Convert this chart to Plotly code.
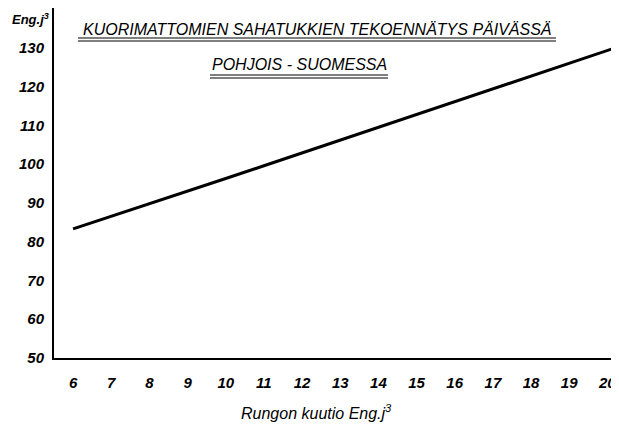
import plotly.graph_objects as go

# Data
rungon_kuutio = [6, 7, 8, 9, 10, 11, 12, 13, 14, 15, 16, 17, 18, 19, 20, 20.2]
tekoennatys = [83.3, 86.5, 89.8, 93.0, 96.3, 99.6, 102.9, 106.2, 109.5, 112.8, 116.1, 119.4, 122.7, 126.0, 129.3, 130.0]
x_ticks = list(range(6, 21))
y_ticks = [50, 60, 70, 80, 90, 100, 110, 120, 130]

title1 = "KUORIMATTOMIEN SAHATUKKIEN TEKOENNÄTYS PÄIVÄSSÄ"
title2 = "POHJOIS - SUOMESSA"
x_title = "Rungon kuutio Eng.j<sup>3</sup>"
y_title = "Eng.j<sup>3</sup>"

# page body adds an 8px offset, so the figure is 8px smaller
OFF = 8
W, H = 619 - OFF, 429 - OFF
L, R, T, B = 54 - OFF, 4, 0, 71
PW, PH = W - L - R, H - T - B


def px(x):
    return (x - OFF - L) / PW


def py(y):
    return (H - B - (y - OFF)) / PH


tick_font = dict(family="Liberation Sans", size=15, color="black", style="italic", weight="bold")
title_font = dict(family="Liberation Sans", size=16, color="black", style="italic")

fig = go.Figure()
fig.add_trace(go.Scatter(x=rungon_kuutio, y=tekoennatys, mode="lines",
                         line=dict(color="black", width=3), hoverinfo="skip"))

fig.update_layout(
    width=W, height=H,
    margin=dict(l=L, r=R, t=T, b=B, autoexpand=False),
    paper_bgcolor="white", plot_bgcolor="white",
    showlegend=False,
    xaxis=dict(range=[5.5, 20.2], tickvals=x_ticks, showgrid=False, zeroline=False,
               showline=True, linecolor="black", linewidth=2, ticks="",
               tickfont=tick_font, ticklabelstandoff=10, automargin=False),
    yaxis=dict(range=[50, 140.3], tickvals=y_ticks, showgrid=False, zeroline=False,
               showline=True, linecolor="black", linewidth=2, ticks="",
               tickfont=tick_font, ticklabelstandoff=5, automargin=False),
)

fig.add_annotation(x=px(317), y=py(29), xref="paper", yref="paper", xanchor="center", yanchor="middle",
                   text=title1, showarrow=False, font=title_font)
fig.add_annotation(x=px(299), y=py(65), xref="paper", yref="paper", xanchor="center", yanchor="middle",
                   text=title2, showarrow=False, font=title_font)
fig.add_annotation(x=px(239), y=py(412), xref="paper", yref="paper", xanchor="left", yanchor="middle",
                   text=x_title, showarrow=False,
                   font=dict(family="Liberation Sans", size=16, color="black", style="italic"))
fig.add_annotation(x=px(51), y=py(19), xref="paper", yref="paper", xanchor="right", yanchor="middle",
                   text=y_title, showarrow=False,
                   font=dict(family="Liberation Sans", size=13, color="black", style="italic", weight="bold"))

# double underlines under the titles
for yy in (38, 41):
    fig.add_shape(type="line", xref="paper", yref="paper",
                  x0=px(78), x1=px(556), y0=py(yy), y1=py(yy),
                  line=dict(color="black", width=1.2))
for yy in (75, 78):
    fig.add_shape(type="line", xref="paper", yref="paper",
                  x0=px(210), x1=px(388), y0=py(yy), y1=py(yy),
                  line=dict(color="black", width=1.2))

fig.write_html("out.html")
